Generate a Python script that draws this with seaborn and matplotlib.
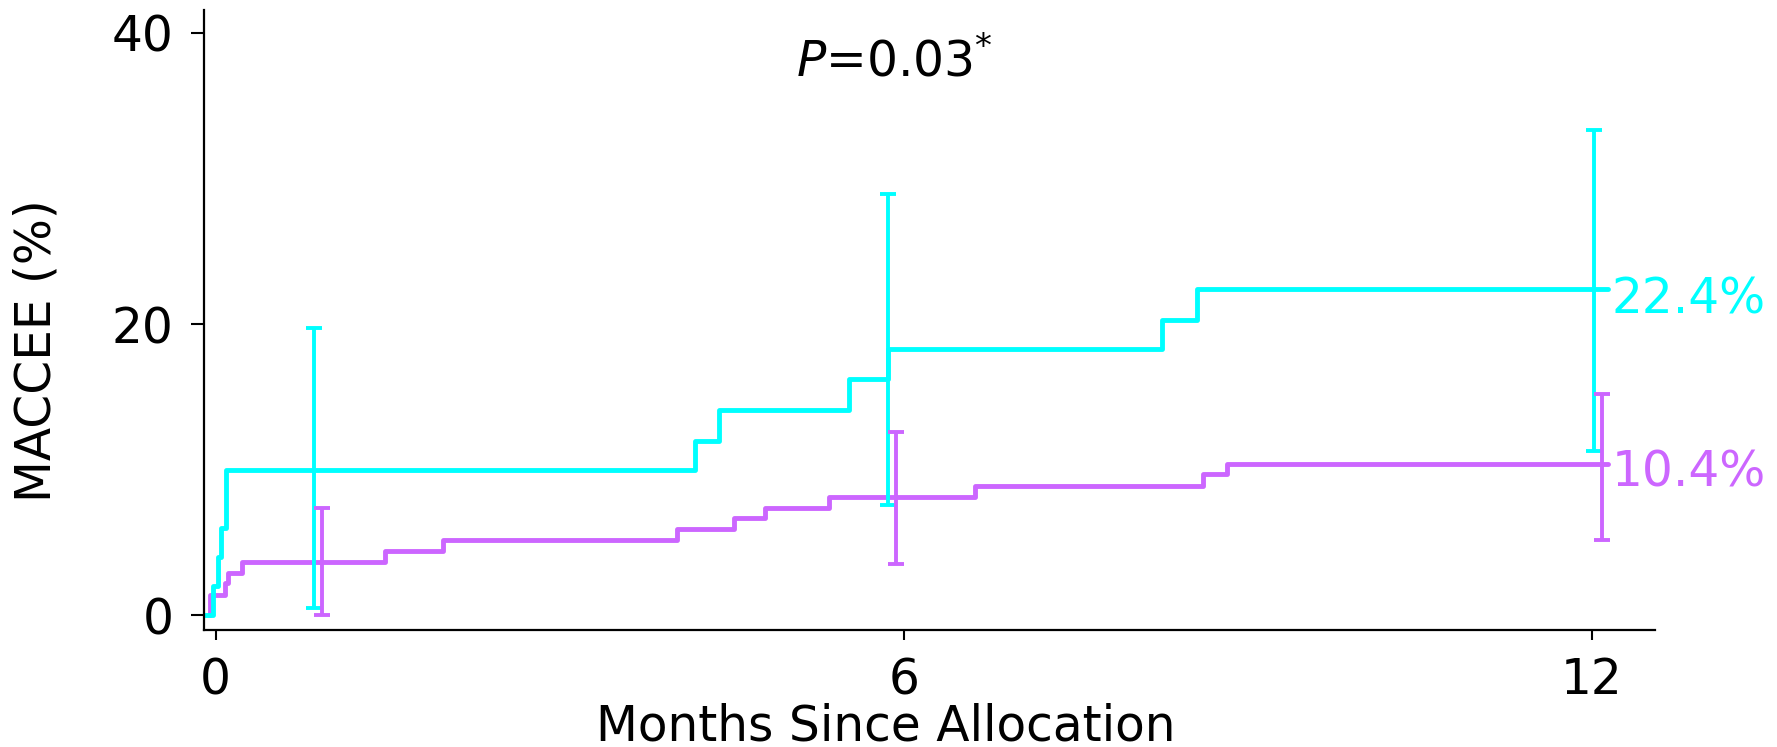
import matplotlib
matplotlib.use("Agg")
import matplotlib.pyplot as plt
import seaborn as sns
import pandas as pd

# Cumulative incidence step curves (months, %)
cyan_months = [-0.09, -0.02, 0.02, 0.05, 0.09, 4.18, 4.39, 5.52, 5.86, 8.25, 8.56, 12.14]
cyan_pct = [0.0, 2.0, 4.0, 6.0, 10.0, 12.0, 14.1, 16.2, 18.3, 20.3, 22.4, 22.4]

purple_months = [-0.05, -0.05, 0.08, 0.11, 0.23, 1.48, 1.98, 4.02, 4.52, 4.79, 5.35, 6.62, 8.61, 8.82, 12.14]
purple_pct = [0.0, 1.4, 2.2, 2.9, 3.7, 4.4, 5.2, 5.9, 6.7, 7.4, 8.1, 8.9, 9.7, 10.4, 10.4]

# Confidence intervals at selected time points
cyan_ci_months = [0.86, 5.86, 12.02]
cyan_ci_mid = [10.0, 18.3, 22.4]
cyan_ci_low = [0.5, 7.6, 11.3]
cyan_ci_high = [19.7, 28.9, 33.3]

purple_ci_months = [0.93, 5.93, 12.09]
purple_ci_mid = [3.7, 8.1, 10.4]
purple_ci_low = [0.0, 3.5, 5.2]
purple_ci_high = [7.4, 12.6, 15.2]

x_ticks = [0, 6, 12]
y_ticks = [0, 20, 40]
p_label = r"$P$=0.03$^{*}$"

CYAN = "#00FFFF"
PURPLE = "#CC66FF"

sns.set_theme(style="ticks")
plt.rcParams["font.family"] = ["DejaVu Sans"]
plt.rcParams["mathtext.fontset"] = "dejavusans"
plt.rcParams["axes.labelcolor"] = "black"
plt.rcParams["text.color"] = "black"

fig = plt.figure(figsize=(17.77, 7.47), dpi=100)
ax = fig.add_axes([0.1146, 0.1566, 0.8165, 0.83])

cyan_df = pd.DataFrame({"month": cyan_months, "pct": cyan_pct})
purple_df = pd.DataFrame({"month": purple_months, "pct": purple_pct})

sns.lineplot(data=purple_df, x="month", y="pct", ax=ax, color=PURPLE,
             drawstyle="steps-post", linewidth=3.5, estimator=None, sort=False)
sns.lineplot(data=cyan_df, x="month", y="pct", ax=ax, color=CYAN,
             drawstyle="steps-post", linewidth=3.5, estimator=None, sort=False)

for t, mid, lo, hi, col in [
    (cyan_ci_months, cyan_ci_mid, cyan_ci_low, cyan_ci_high, CYAN),
    (purple_ci_months, purple_ci_mid, purple_ci_low, purple_ci_high, PURPLE),
]:
    yerr = [[m - l for m, l in zip(mid, lo)], [h - m for m, h in zip(mid, hi)]]
    ax.errorbar(t, mid, yerr=yerr, fmt="none", ecolor=col, elinewidth=2.8,
                capsize=5.8, capthick=2.8)

# End-of-follow-up labels
ax.text(12.17, cyan_pct[-1] - 0.7, f"{cyan_pct[-1]:.1f}%", color=CYAN,
        fontsize=35, ha="left", va="center")
ax.text(12.17, purple_pct[-1] - 0.6, f"{purple_pct[-1]:.1f}%", color=PURPLE,
        fontsize=35, ha="left", va="center")

ax.text(5.92, 38.0, p_label, fontsize=35, ha="center", va="center", color="black")

ax.set_xlim(-0.105, 12.545)
ax.set_ylim(-1.0, 41.55)
ax.set_xticks(x_ticks)
ax.set_yticks(y_ticks)

sns.despine(ax=ax)
for s in ["left", "bottom"]:
    ax.spines[s].set_color("black")
    ax.spines[s].set_linewidth(1.6)

ax.tick_params(axis="y", labelsize=35, length=9.5, width=1.5, pad=12, colors="black")
ax.tick_params(axis="x", labelsize=35, length=7, width=1.5, pad=12, colors="black")

ax.set_xlabel("Months Since Allocation", fontsize=35, color="black")
ax.set_ylabel("MACCEE (%)", fontsize=35, color="black")
ax.xaxis.set_label_coords(0.47, -0.155)
ax.xaxis.label.set_va("center")
ax.yaxis.set_label_coords(-0.115, 0.45)
ax.yaxis.label.set_va("center")

fig.savefig("out.png", dpi=100, facecolor="white")
